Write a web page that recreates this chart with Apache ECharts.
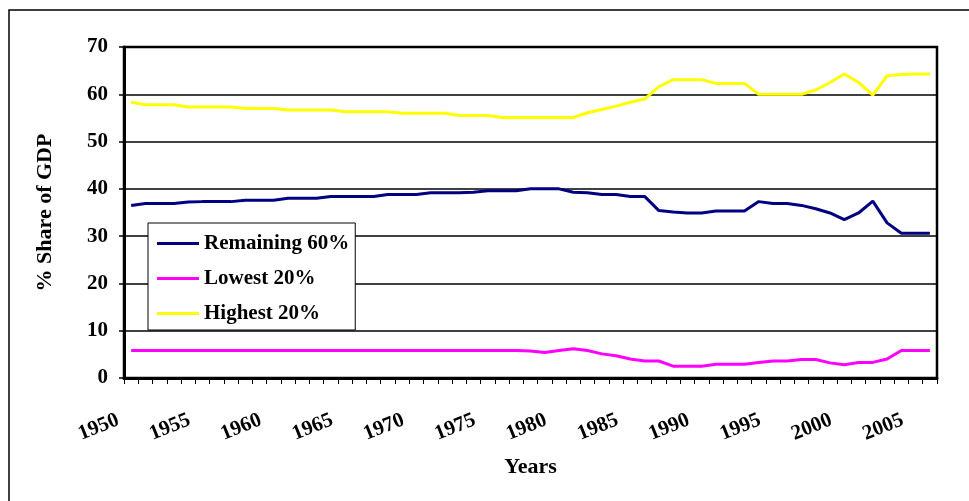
<!DOCTYPE html>
<html>
<head>
<meta charset="utf-8">
<script src="https://cdn.jsdelivr.net/npm/echarts@6/dist/echarts.min.js"></script>
<style>
html,body{margin:0;padding:0;background:#fff;}
#chart{width:969px;height:501px;}
</style>
</head>
<body>
<div id="chart"></div>
<script>
var years = [];
for (var y = 1950; y <= 2006; y++) years.push(String(y));

var remaining60 = [36.5,36.9,36.9,36.9,37.2,37.3,37.3,37.3,37.6,37.6,
                   37.6,38.0,38.0,38.0,38.4,38.4,38.4,38.4,38.8,38.8,
                   38.8,39.2,39.2,39.2,39.3,39.6,39.6,39.6,40.0,40.0,
                   40.0,39.3,39.2,38.8,38.8,38.4,38.4,35.4,35.1,34.9,
                   34.9,35.3,35.3,35.3,37.3,36.9,36.9,36.5,35.8,34.9,
                   33.5,34.9,37.4,32.8,30.6,30.6,30.6];
var lowest20 = [5.8,5.8,5.8,5.8,5.8,5.8,5.8,5.8,5.8,5.8,
                5.8,5.8,5.8,5.8,5.8,5.8,5.8,5.8,5.8,5.8,
                5.8,5.8,5.8,5.8,5.8,5.8,5.8,5.8,5.7,5.4,
                5.8,6.2,5.8,5.1,4.7,4.0,3.6,3.6,2.5,2.5,
                2.5,2.9,2.9,2.9,3.3,3.6,3.6,3.9,3.9,3.2,
                2.8,3.3,3.3,4.0,5.8,5.8,5.8];
var highest20 = [58.3,57.8,57.8,57.8,57.3,57.3,57.3,57.3,57.0,57.0,
                 57.0,56.7,56.7,56.7,56.7,56.3,56.3,56.3,56.3,56.0,
                 56.0,56.0,56.0,55.5,55.5,55.5,55.1,55.1,55.1,55.1,
                 55.1,55.1,56.1,56.8,57.5,58.3,59.0,61.6,63.1,63.1,
                 63.1,62.3,62.3,62.3,60.0,60.0,60.0,60.0,60.9,62.5,
                 64.3,62.5,59.8,63.9,64.2,64.3,64.3];
var yTicks = [0,10,20,30,40,50,60,70];

var font = "'Liberation Serif','Times New Roman',serif";
var chart = echarts.init(document.getElementById('chart'), null, {renderer:'canvas'});
chart.setOption({
  animation:false,
  backgroundColor:'#fff',
  graphic:[{
    type:'rect', shape:{x:9, y:10, width:990, height:520},
    style:{fill:'none', stroke:'#000', lineWidth:1.5}, z:-1
  }],
  grid:{left:124, right:32, top:47, bottom:123, show:true, borderColor:'#000', borderWidth:2.5, backgroundColor:'#fff'},
  legend:{
    orient:'vertical', left:148, top:223,
    padding:[10,6,6,9], itemGap:14, itemWidth:42, itemHeight:3, icon:'rect',
    backgroundColor:'#fff', borderColor:'#000', borderWidth:1,
    textStyle:{fontFamily:font, fontWeight:'bold', fontSize:21, color:'#000'},
    data:['Remaining 60%','Lowest 20%','Highest 20%']
  },
  xAxis:{
    type:'category', data:years, boundaryGap:true,
    name:'Years', nameLocation:'middle', nameGap:78,
    nameTextStyle:{fontFamily:font, fontWeight:'bold', fontSize:22, color:'#000'},
    axisLine:{lineStyle:{color:'#000', width:3}},
    axisTick:{show:true, interval:0, length:6, lineStyle:{color:'#000', width:1}},
    axisLabel:{interval:4, rotate:22, margin:36, padding:[0,14,0,0],
      fontFamily:font, fontWeight:'bold', fontSize:21, color:'#000'},
    splitLine:{show:false}
  },
  yAxis:{
    type:'value', min:0, max:70, interval:10,
    name:'% Share of GDP', nameLocation:'middle', nameGap:68, nameRotate:90,
    nameTextStyle:{fontFamily:font, fontWeight:'bold', fontSize:22, color:'#000'},
    axisLine:{show:true, lineStyle:{color:'#000', width:3}},
    axisTick:{show:true, length:5, lineStyle:{color:'#000', width:1.5}},
    axisLabel:{margin:16, fontFamily:font, fontWeight:'bold', fontSize:21, color:'#000',
      formatter:function(v){return yTicks.indexOf(v)>=0?String(v):'';}},
    splitLine:{show:true, lineStyle:{color:'#000', width:1.5}}
  },
  series:[
    {name:'Remaining 60%', type:'line', data:remaining60, symbol:'none', color:'#000080',
     lineStyle:{color:'#000080', width:3}},
    {name:'Lowest 20%', type:'line', data:lowest20, symbol:'none', color:'#FF00FF',
     lineStyle:{color:'#FF00FF', width:3}},
    {name:'Highest 20%', type:'line', data:highest20, symbol:'none', color:'#FFFF00',
     lineStyle:{color:'#FFFF00', width:3}}
  ]
});
</script>
</body>
</html>
